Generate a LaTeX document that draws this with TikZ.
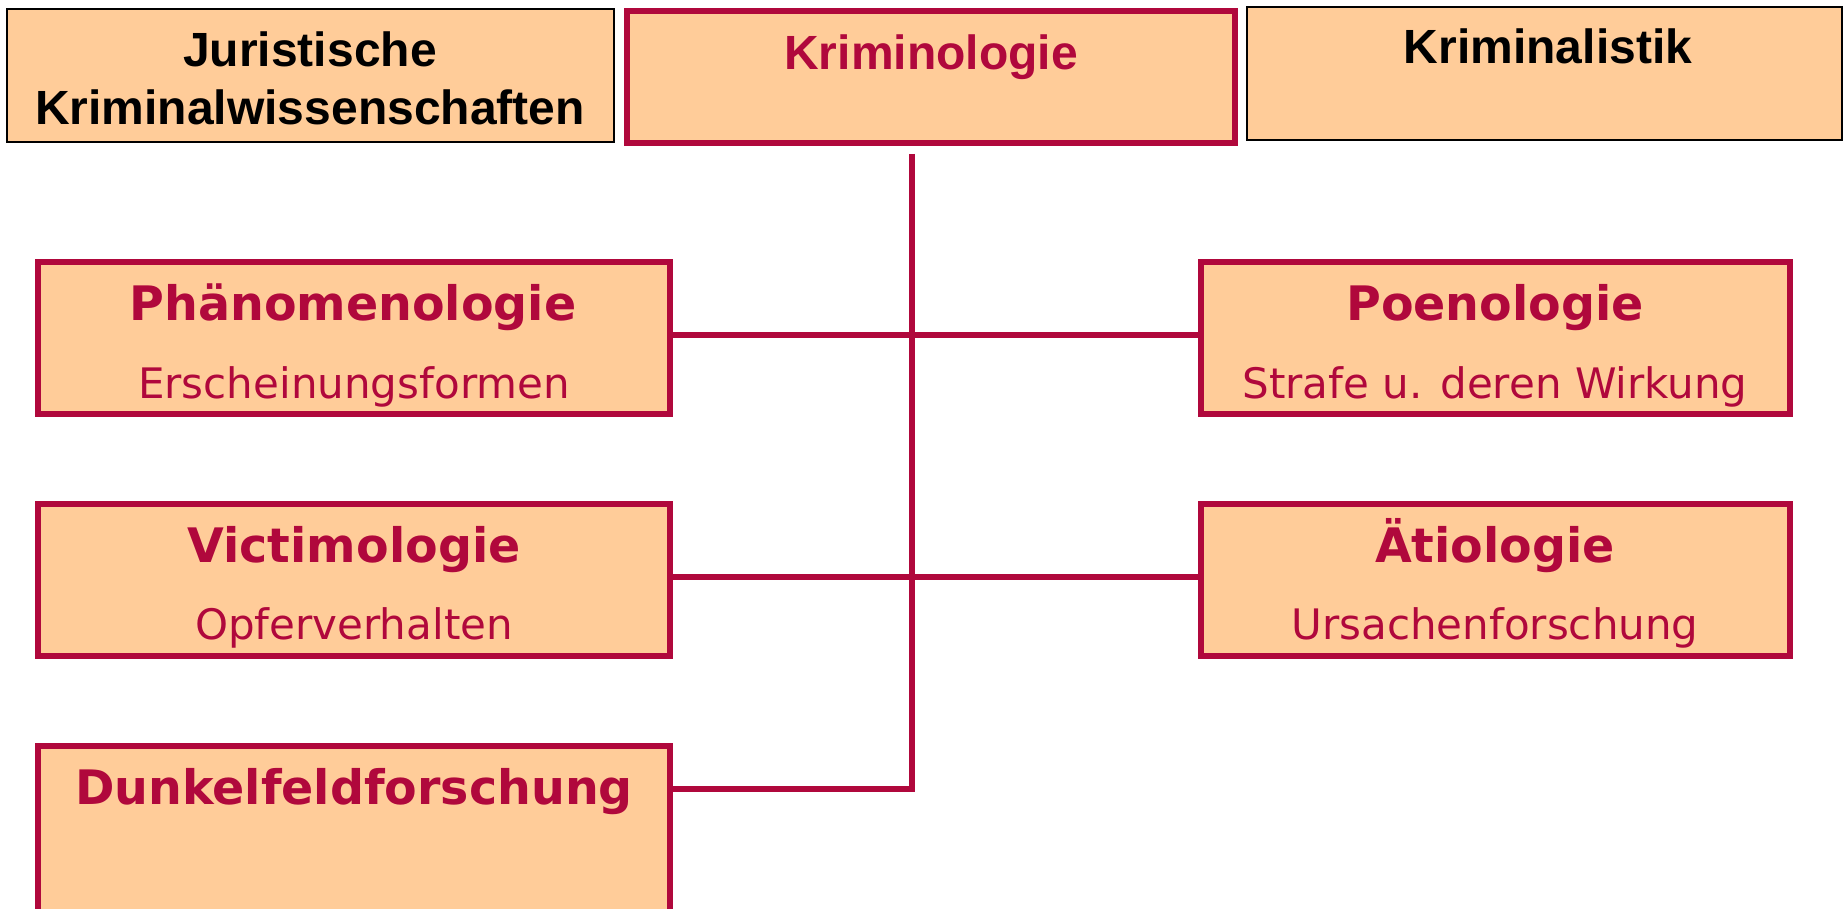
\documentclass[tikz,border=0pt]{standalone}
\usepackage{fontspec}
\newfontfamily\arialb{Liberation Sans}[BoldFont={* Bold}]
\newfontfamily\verd{DejaVu Sans}
\definecolor{maroon}{RGB}{176,8,60}
\definecolor{peach}{RGB}{255,204,153}
\tikzset{
  blackbox/.style={draw=black, line width=2pt, fill=peach, inner sep=0pt, outer sep=0pt, anchor=north west},
  redbox/.style={draw=maroon, line width=6.5pt, fill=peach, inner sep=0pt, outer sep=0pt, anchor=north west},
  headtxt/.style={font=\arialb\bfseries\fontsize{48}{50}\selectfont, anchor=base, inner sep=0pt},
  titletxt/.style={font=\verd\bfseries\fontsize{47.5}{50}\selectfont, text=maroon, anchor=base, inner sep=0pt},
  subtxt/.style={font=\verd\fontsize{42}{44}\selectfont, text=maroon, anchor=base, inner sep=0pt},
  conn/.style={draw=maroon, line width=6.5pt}
}
\begin{document}
\begin{tikzpicture}[x=1pt,y=-1pt]
\useasboundingbox[fill=white] (0,0) rectangle (1846,909);
% top row
\node[blackbox, minimum width=607pt, minimum height=133pt] (jur) at (7,9) {};
\node[redbox, minimum width=608pt, minimum height=132pt] (krim) at (627,11) {};
\node[blackbox, minimum width=595pt, minimum height=133pt] (kris) at (1247,7) {};
\node[headtxt] (jurA) at (310,67) {Juristische};
\node[headtxt] (jurB) at (310,125) {Kriminalwissenschaften};
\node[headtxt, text=maroon] (krimT) at (931,70) {Kriminologie};
\node[headtxt] (krisT) at (1548,64) {Kriminalistik};
% boxes
\node[redbox, minimum width=632pt, minimum height=152pt] (phae) at (38,262) {};
\node[redbox, minimum width=589pt, minimum height=152pt] (poen) at (1201,262) {};
\node[redbox, minimum width=632pt, minimum height=152pt] (vict) at (38,504) {};
\node[redbox, minimum width=589pt, minimum height=152pt] (aeti) at (1201,504) {};
\node[redbox, minimum width=632pt, minimum height=170pt] (dunk) at (38,746) {};
% texts
\node[titletxt] (phaeT) at (353,320) {Phänomenologie};
\node[subtxt] (phaeS) at (354,398) {Erscheinungsformen};
\node[titletxt] (poenT) at (1495,320) {Poenologie};
\node[subtxt] (poenS) at (1495,398) {Strafe u. deren Wirkung};
\node[titletxt] (victT) at (354,562) {Victimologie};
\node[subtxt] (victS) at (354,639) {Opferverhalten};
\node[titletxt] (aetiT) at (1495,562) {Ätiologie};
\node[subtxt] (aetiS) at (1495,639) {Ursachenforschung};
\node[titletxt] (dunkT) at (354,804) {Dunkelfeldforschung};
% connectors
\coordinate (vtop) at (912,154);
\coordinate (vbot) at (912,789);
\draw[conn] (vtop) -- (vbot);
\draw[conn] (phae.east |- 0,335) -- (poen.west |- 0,335);
\draw[conn] (vict.east |- 0,577) -- (aeti.west |- 0,577);
\draw[conn] (dunk.east |- vbot) -- ([xshift=3.25pt]vbot);
\end{tikzpicture}
\end{document}
